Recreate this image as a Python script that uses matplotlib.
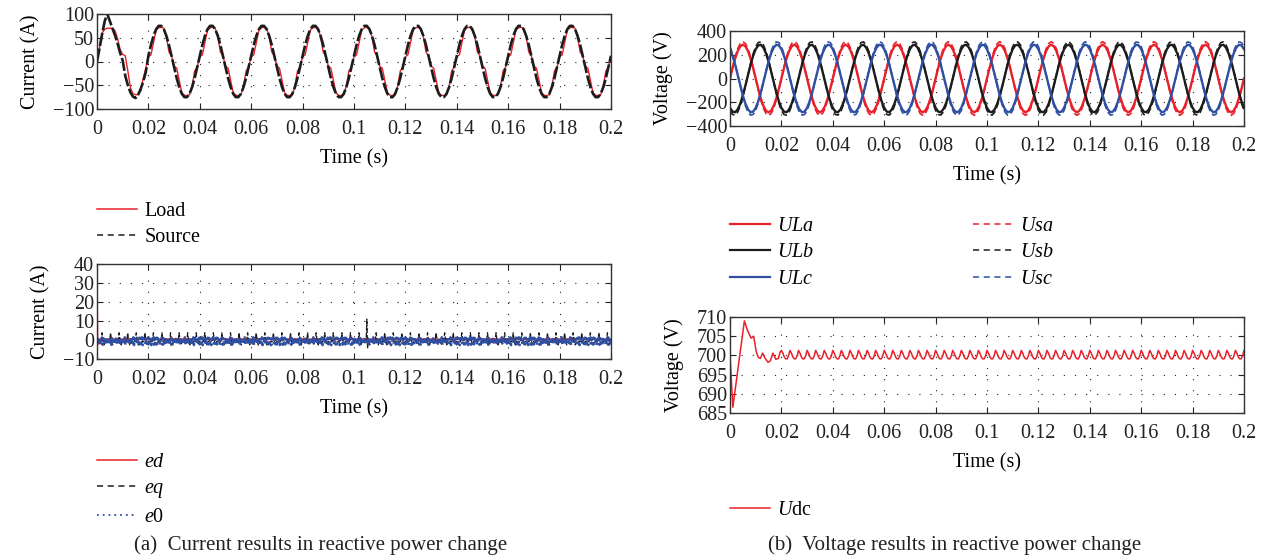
import numpy as np
import matplotlib.pyplot as plt
from matplotlib.lines import Line2D
from matplotlib.ticker import FuncFormatter

plt.rcParams['font.family'] = 'Liberation Serif'
plt.rcParams['mathtext.fontset'] = 'custom'
plt.rcParams['mathtext.rm'] = 'Liberation Serif'
plt.rcParams['mathtext.it'] = 'Liberation Serif:italic'
plt.rcParams['font.size'] = 14.5

RED = '#e8202a'
BLACK = '#1c1c1c'
BLUE = '#2f4fa3'
FS = 14.5

# ---- phase currents, sampled every 1 ms (50 Hz -> 20 samples per cycle) ----
load_start = [0, 30, 60, 68, 70, 70, 70, 65, 48, 25, 15, 12, -20, -55, -68, -70, -70, -62, -35, -14]
source_start = [0, 28, 58, 85, 100, 85, 70, 55, 38, 18, 2, -30, -50, -65, -74, -77, -70, -58, -42, -22]
load_cycle = [10, 14, 40, 66, 71, 72, 70, 52, 20, 12, -10, -14, -40, -66, -71, -72, -70, -52, -20, -12]
source_cycle = [12, 35, 54, 68, 75, 75, 68, 54, 35, 12, -12, -35, -54, -68, -75, -75, -68, -54, -35, -12]

# ---- compensation current components, sampled at 1/3600 s ----
ed_start = [32, -2.5]
ed_cycle = [0.4, 0.1, 0.6, 0.2, 0.7, 0.0, 0.3, 0.6, 0.1, 0.5, 0.2, 0.6]
eq_start = [-2.5, -1.5]
eq_cycle = [-1.0, -1.3, -0.6, -1.0, 0.4, 3.8, 0.8, -1.6, -2.6, -1.2, -0.6, -1.1]
e0_cycle = [-2.3, 1.1, -1.7, 1.4, -2.7, 0.7, -1.1, 1.3, -2.5, 0.9, -1.9, 1.2]
eq_event_time = 0.105
eq_event = [11, -4.5, 1.0]

# ---- phase voltages, sampled every 1 ms ----
ula_cycle = [0, 88, 168, 231, 271, 285, 271, 231, 168, 88, 0, -88, -168, -231, -271, -285, -271, -231, -168, -88]
ulb_cycle = [-247, -279, -284, -260, -212, -143, -59, 30, 116, 191, 247, 279, 284, 260, 212, 143, 59, -30, -116, -191]
ulc_cycle = [247, 191, 116, 30, -59, -143, -212, -260, -284, -279, -247, -191, -116, -30, 59, 143, 212, 260, 284, 279]
usa_cycle = [0, 96, 182, 251, 295, 310, 295, 251, 182, 96, 0, -96, -182, -251, -295, -310, -295, -251, -182, -96]
usb_cycle = [-269, -303, -308, -283, -230, -155, -64, 33, 126, 207, 269, 303, 308, 283, 230, 155, 64, -33, -126, -207]
usc_cycle = [269, 207, 126, 33, -64, -155, -230, -283, -308, -303, -269, -207, -126, -33, 64, 155, 230, 283, 308, 303]

# ---- dc-link voltage: start-up transient, then 300 Hz ripple ----
udc_start_t = [0, 0.0011, 0.003, 0.0056, 0.0068, 0.0082, 0.0092, 0.0102, 0.011, 0.0118,
               0.0127, 0.0137, 0.0148, 0.0157, 0.0167, 0.0178, 0.0188, 0.0195]
udc_start = [700, 686.5, 696, 709, 706.5, 704.5, 705, 701, 699.5, 699.2,
             700.6, 699.2, 698.2, 698.6, 700.6, 699, 699.2, 700.8]
udc_ripple = [701.3, 700.6, 699.6, 699.1, 699.1, 699.9]


def build(start, cycle, n_samples):
    # start-up samples followed by the repeated steady-state cycle
    vals = list(start)
    while len(vals) < n_samples:
        vals += list(cycle)
    return np.array(vals[:n_samples], dtype=float)


t_ms = np.arange(201) * 0.001
i_load = build(load_start, load_cycle, t_ms.size)
i_source = build(source_start, source_cycle, t_ms.size)
u_la = build([], ula_cycle, t_ms.size)
u_lb = build([], ulb_cycle, t_ms.size)
u_lc = build([], ulc_cycle, t_ms.size)
u_sa = build([], usa_cycle, t_ms.size)
u_sb = build([], usb_cycle, t_ms.size)
u_sc = build([], usc_cycle, t_ms.size)

t_fine = np.arange(721) / 3600.0
e_d = build(ed_start, ed_cycle, t_fine.size)
e_q = build(eq_start, eq_cycle, t_fine.size)
e_0 = build([], e0_cycle, t_fine.size)
k = int(round(eq_event_time * 3600))
e_q[k:k + len(eq_event)] = eq_event

ripple_step = (1 / 300) / len(udc_ripple)
n_rip = int(round(0.18 / ripple_step)) + 1
t_udc = np.concatenate([udc_start_t, 0.02 + np.arange(n_rip) * ripple_step])
u_dc = np.concatenate([udc_start, build([], udc_ripple, n_rip)])

W, H = 1263, 558
fig = plt.figure(figsize=(W / 100, H / 100), dpi=100)


def px_axes(left, top, right, bottom):
    return fig.add_axes([left / W, 1 - bottom / H, (right - left) / W, (bottom - top) / H])


def style(ax, ylim, yticks, ylabel):
    ax.set_xlim(0, 0.2)
    ax.set_xticks(np.linspace(0, 0.2, 11))
    ax.xaxis.set_major_formatter(FuncFormatter(lambda v, p: f'{v:g}'))
    ax.set_ylim(*ylim)
    ax.set_yticks(yticks)
    ax.grid(True, color='#222222', linestyle=(0, (1, 9)), linewidth=0.8)
    ax.tick_params(direction='in', top=True, right=True, length=4, width=0.8,
                   labelsize=FS, colors='#222222')
    ax.tick_params(axis='x', pad=8)
    ax.tick_params(axis='y', pad=2)
    for s in ax.spines.values():
        s.set_color('#333333')
        s.set_linewidth(1.0)
    ax.set_xlabel('Time (s)', fontsize=FS, labelpad=7)
    ax.set_ylabel(ylabel, fontsize=FS, labelpad=9)


ax1 = px_axes(97, 14, 611, 109)
ax1.plot(t_ms, i_load, color=RED, lw=1.0)
ax1.plot(t_ms, i_source, color=BLACK, lw=1.9, dashes=(5, 1))
style(ax1, (-100, 100), [-100, -50, 0, 50, 100], 'Current (A)')

ax2 = px_axes(97, 264, 611, 359)
ax2.plot(t_fine, e_d, color=RED, lw=1.0)
ax2.plot(t_fine, e_q, color=BLACK, lw=0.9, dashes=(4, 1.5))
ax2.plot(t_fine, e_0, color=BLUE, lw=1.8, linestyle=':')
style(ax2, (-10, 40), [-10, 0, 10, 20, 30, 40], 'Current (A)')

ax3 = px_axes(730, 31, 1244, 126)
ax3.plot(t_ms, u_sa, color=RED, lw=1.2, dashes=(4, 2))
ax3.plot(t_ms, u_sb, color=BLACK, lw=1.2, dashes=(4, 2))
ax3.plot(t_ms, u_sc, color=BLUE, lw=1.2, dashes=(4, 2))
ax3.plot(t_ms, u_la, color=RED, lw=1.7)
ax3.plot(t_ms, u_lb, color=BLACK, lw=1.7)
ax3.plot(t_ms, u_lc, color=BLUE, lw=1.7)
style(ax3, (-400, 400), [-400, -200, 0, 200, 400], 'Voltage (V)')

ax4 = px_axes(730, 317, 1244, 413)
ax4.plot(t_udc, u_dc, color=RED, lw=1.1)
style(ax4, (685, 710), [685, 690, 695, 700, 705, 710], 'Voltage (V)')

leg_kw = dict(frameon=False, loc='upper left', borderpad=0, borderaxespad=0,
              handlelength=2.0, handletextpad=0.35, labelspacing=0.36, fontsize=FS)

# legend keys are drawn thinner than the traces themselves
solid = dict(lw=1.1)
dashed = dict(lw=1.1, dashes=(4, 3))
dotted = dict(lw=1.3, dashes=(1, 2.2))


def add_legend(entries, x, y):
    handles = [Line2D([], [], color=c, **kw) for _, c, kw in entries]
    labels = [name for name, _, _ in entries]
    fig.legend(handles, labels, bbox_to_anchor=(x / W, 1 - y / H), **leg_kw)


add_legend([('Load', RED, solid), ('Source', BLACK, dashed)], 97, 202)
add_legend([('$ed$', RED, solid), ('$eq$', BLACK, dashed), ('$e$0', BLUE, dotted)], 97, 453)
add_legend([('$ULa$', RED, dict(lw=1.6)), ('$ULb$', BLACK, dict(lw=1.6)),
            ('$ULc$', BLUE, dict(lw=1.6))], 730, 217)
add_legend([('$Usa$', RED, dashed), ('$Usb$', BLACK, dashed), ('$Usc$', BLUE, dashed)], 973, 217)
add_legend([('$U$dc', RED, solid)], 730, 501)

fig.text(321 / W, 1 - 545 / H, '(a)  Current results in reactive power change',
         ha='center', va='center', fontsize=15, color='#222222')
fig.text(955 / W, 1 - 545 / H, '(b)  Voltage results in reactive power change',
         ha='center', va='center', fontsize=15, color='#222222')

fig.savefig('out.png', dpi=100)
